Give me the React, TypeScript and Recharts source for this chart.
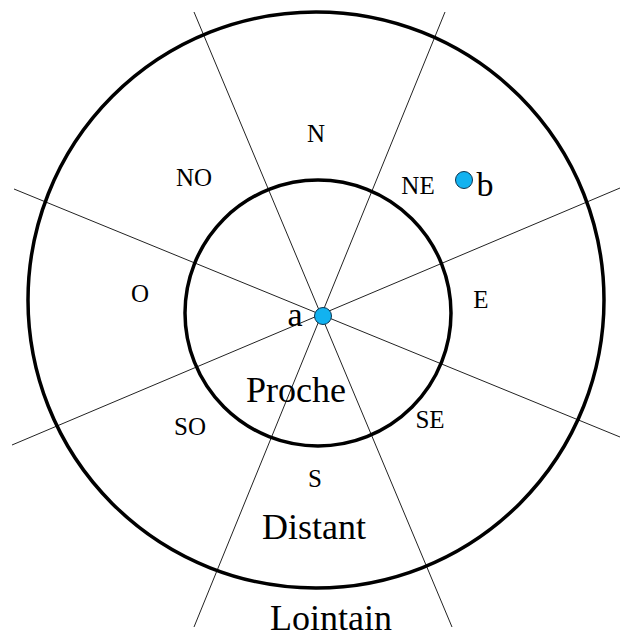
import {
  ComposedChart,
  XAxis,
  YAxis,
  Scatter,
  ReferenceLine,
  ReferenceDot,
} from "recharts";

// zones: concentric rings (centre + radius, in picture units)
const zones = [
  { name: "Proche", cx: 318, cy: 313, r: 133 },
  { name: "Distant", cx: 316, cy: 300, r: 288 },
];

// dividing lines between the eight sectors
const dividers = [
  [{ x: 194, y: 12 }, { x: 452, y: 627 }],
  [{ x: 445, y: 12 }, { x: 194, y: 627 }],
  [{ x: 14, y: 189 }, { x: 620, y: 437 }],
  [{ x: 12, y: 445 }, { x: 620, y: 188 }],
];

const sectorLabels = [
  { name: "N", x: 316, y: 133 },
  { name: "NO", x: 194, y: 177 },
  { name: "NE", x: 418, y: 185 },
  { name: "O", x: 140, y: 293 },
  { name: "E", x: 481, y: 299 },
  { name: "SO", x: 190, y: 426 },
  { name: "SE", x: 430, y: 419 },
  { name: "S", x: 315, y: 478 },
];

const zoneLabels = [
  { name: "Proche", x: 296, y: 390 },
  { name: "Distant", x: 314, y: 527 },
  { name: "Lointain", x: 331, y: 618 },
];

const points = [
  { name: "a", x: 323, y: 316 },
  { name: "b", x: 464, y: 180 },
];

const pointLabels = [
  { name: "a", x: 295, y: 314 },
  { name: "b", x: 485, y: 184 },
];

const serif = "'Liberation Serif', 'DejaVu Serif', serif";

function makeText(size: number) {
  return (props: any) => (
    <text
      x={props.cx}
      y={props.cy}
      textAnchor="middle"
      dominantBaseline="central"
      fontFamily={serif}
      fontSize={size}
      fill="#000"
    >
      {props.payload.name}
    </text>
  );
}

export default function App() {
  return (
    <div style={{ position: "absolute", left: 0, top: 0, background: "#fff" }}>
      <ComposedChart
        width={620}
        height={634}
        margin={{ top: 0, right: 0, bottom: 0, left: 0 }}
      >
        <XAxis type="number" dataKey="x" domain={[0, 620]} hide />
        <YAxis type="number" dataKey="y" domain={[0, 634]} reversed hide />
        {dividers.map((seg, i) => (
          <ReferenceLine
            key={i}
            segment={seg}
            stroke="#222"
            strokeWidth={1}
            ifOverflow="visible"
          />
        ))}
        {zones.map((z) => (
          <ReferenceDot
            key={z.name}
            x={z.cx}
            y={z.cy}
            r={z.r}
            fill="none"
            stroke="#000"
            strokeWidth={3.5}
            ifOverflow="visible"
          />
        ))}
        <Scatter data={sectorLabels} shape={makeText(25)} isAnimationActive={false} />
        <Scatter data={zoneLabels} shape={makeText(36)} isAnimationActive={false} />
        <Scatter data={pointLabels} shape={makeText(34)} isAnimationActive={false} />
        <Scatter
          data={points}
          isAnimationActive={false}
          shape={(p: any) => (
            <circle cx={p.cx} cy={p.cy} r={8.5} fill="#12b2f0" stroke="#0b3550" strokeWidth={1} />
          )}
        />
      </ComposedChart>
    </div>
  );
}
